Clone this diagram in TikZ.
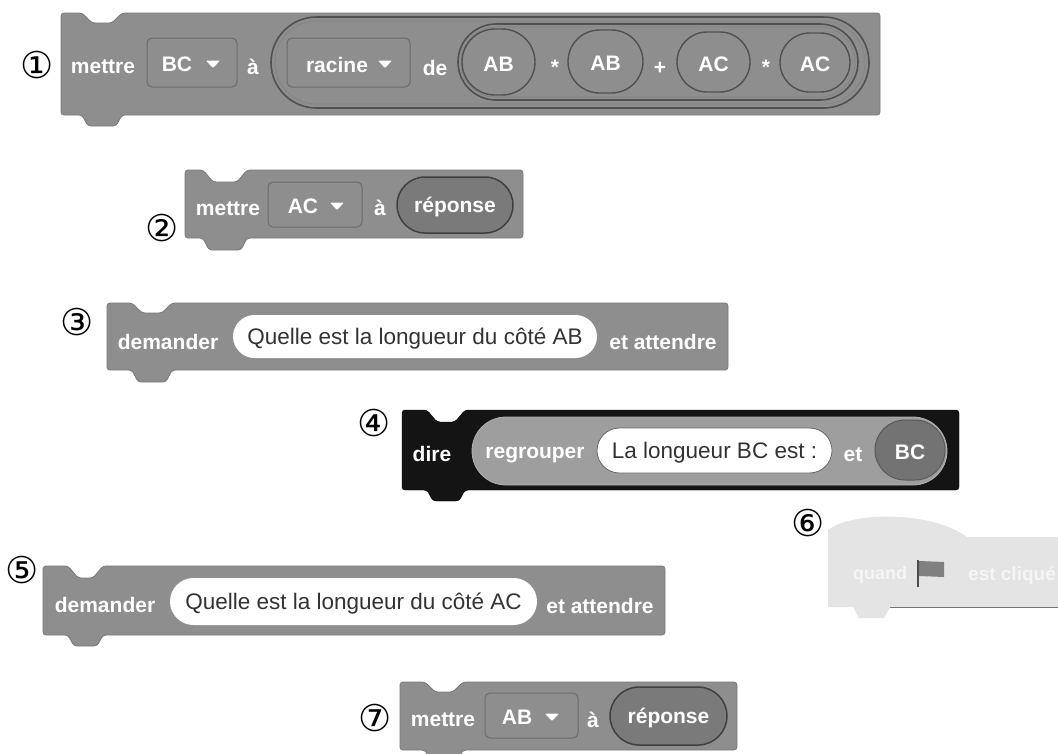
\documentclass[tikz,border=0pt]{standalone}
\usepackage{fontspec}
\setmainfont{Liberation Sans}
\newfontfamily\symfont{DejaVu Sans}
\usetikzlibrary{shapes.misc}
\definecolor{blockgray}{HTML}{8E8E8E}
\definecolor{lightblock}{HTML}{E4E4E4}
\definecolor{edgegray}{HTML}{505050}
\tikzset{
  x=1pt,y=-1pt,
  blockfill/.style={fill=blockgray,draw=blockgray!85!black,line width=.8pt},
  label/.style={text=white,font=\fontsize{21}{24}\selectfont\bfseries,inner sep=0pt,yshift=-2pt},
  quote/.style={text=black!80,font=\fontsize{22.5}{26}\selectfont,inner sep=0pt,yshift=-2pt},
  num/.style={text=black,font=\fontsize{37}{40}\symfont,inner sep=0pt},
  drop/.style={draw=black!58,fill=blockgray,line width=1pt,rounded corners=5pt},
  oval/.style={draw=edgegray,line width=1.6pt,fill=none},
  reporter/.style={draw=black!75,line width=1.5pt,fill=black!52},
  sphere/.style={draw=edgegray,line width=1.4pt,fill=blockgray},
  textpill/.style={fill=white,draw=black!60,line width=.8pt},
}
% block with notch on top and bump below: x0 y0 x1 y1 notchL notchR notchY bumpY style
\newcommand\stackblock[9]{%
  \def\bstyle{#9}%
  \expandafter\draw\expandafter[\bstyle,rounded corners=3pt] (#1,#2) -- (#5,#2) -- (#5+10,#7) -- (#6-10,#7) -- (#6,#2) -- (#3,#2) -- (#3,#4) -- (#6,#4) -- (#6-6,#8) -- (#5+6,#8) -- (#5,#4) -- (#1,#4) -- cycle;%
}
\newcommand\pill[6]{% name x0 y0 x1 y1 style
  \pgfmathsetmacro\pw{#4-#2}\pgfmathsetmacro\ph{#5-#3}%
  \pgfmathsetmacro\pcx{(#2+#4)/2}\pgfmathsetmacro\pcy{(#3+#5)/2}%
  \node[rounded rectangle,minimum width=\pw pt,minimum height=\ph pt,inner sep=0pt,#6] (#1) at (\pcx,\pcy) {};%
}
\newcommand\arrowtip[2]{% x y
  \fill[white,rounded corners=1pt] (#1-7,#2-3.5) -- (#1+7,#2-3.5) -- (#1,#2+4) -- cycle;%
}
\newcommand\dropdown[7]{% name x0 y0 x1 y1 textx text
  \draw[drop] (#2,#3) rectangle (#4,#5);%
  \pgfmathsetmacro\dy{(#3+#5)/2}%
  \node[label] (#1) at (#6,\dy) {#7};%
}
\begin{document}
\begin{tikzpicture}
\useasboundingbox (0,0) rectangle (1058,753);
\fill[white] (0,0) rectangle (1058,753);

% --- block 1
\stackblock{61}{13}{880}{115}{82}{122}{23}{126}{blockfill}
\node[num] (n1) at (37,65) {①};
\node[label] (b1a) at (103,65) {mettre};
\dropdown{b1b}{147}{38}{237}{87}{177}{BC}
\arrowtip{213}{64}
\node[label] (b1c) at (253,65) {à};
\pill{b1o1}{271}{17}{869}{108}{oval}
\pill{b1o2}{275}{21}{865}{104}{draw=edgegray!70,line width=.8pt}
\dropdown{b1d}{287}{38}{410}{87}{337}{racine}
\arrowtip{385}{64}
\node[label] (b1e) at (435,66) {de};
\pill{b1o3}{458}{24}{858}{100}{oval}
\pill{b1o4}{461}{27}{855}{97}{draw=edgegray!70,line width=.8pt}
\pill{b1s1}{462}{29}{535}{95}{sphere}
\pill{b1s2}{568}{30}{643}{93}{sphere}
\pill{b1s3}{677}{32}{750}{92}{sphere}
\pill{b1s4}{780}{33}{850}{92}{sphere}
\node[label] at (b1s1) {AB};
\node[label] at (b1s2) {AB};
\node[label] at (b1s3) {AC};
\node[label] at (b1s4) {AC};
\node[label] (b1m1) at (555,65) {*};
\node[label] (b1p) at (660,66) {+};
\node[label] (b1m2) at (766,65) {*};

% --- block 2
\stackblock{185}{170}{523}{238}{203}{247}{182}{250}{blockfill}
\node[num] (n2) at (162,228) {②};
\node[label] (b2a) at (228,207) {mettre};
\dropdown{b2b}{268}{182}{362}{227}{303}{AC}
\arrowtip{337}{206}
\node[label] (b2c) at (380,206) {à};
\pill{b2d}{397}{177}{513}{233}{reporter}
\node[label] at (b2d) {réponse};

% --- block 3
\stackblock{107}{303}{728}{370}{132}{172}{313}{382}{blockfill}
\node[num] (n3) at (77,322) {③};
\node[label] (b3a) at (168,340) {demander};
\pill{b3b}{233}{315}{597}{358}{fill=white}
\node[quote] at (b3b) {Quelle est la longueur du côté AB};
\node[label] (b3c) at (663,340) {et attendre};

% --- block 4
\stackblock{402}{410}{959}{490}{427}{465}{422}{501}{fill=black!92,draw=black}
\node[num] (n4) at (374,423) {④};
\node[label] (b4a) at (432,452) {dire};
\pill{b4b}{472}{417}{947}{485}{fill=black!38,draw=black!30,line width=.8pt}
\node[label] (b4c) at (535,453) {regrouper};
\pill{b4d}{597}{428}{832}{473}{textpill}
\node[quote] at (b4d) {La longueur BC est :};
\node[label] (b4e) at (853,453) {et};
\pill{b4f}{875}{420}{945}{480}{fill=black!55,draw=black!65,line width=1pt}
\node[label] at (b4f) {BC};

% --- block 5
\stackblock{43}{566}{665}{635}{68}{103}{578}{646}{blockfill}
\node[num] (n5) at (22,570) {⑤};
\node[label] (b5a) at (105,603) {demander};
\pill{b5b}{170}{578}{537}{625}{fill=white}
\node[quote] at (b5b) {Quelle est la longueur du côté AC};
\node[label] (b5c) at (600,604) {et attendre};

% --- block 6 (hat)
\node[num] (n6) at (808,523) {⑥};
\draw[fill=lightblock,draw=none] (828,607) -- (828,530) .. controls (850,512) and (930,510) .. (967,537) -- (1058,537) -- (1058,607) -- (890,607) -- (884,618) -- (859,618) -- (853,607) -- cycle;
\draw[black!55,line width=.8pt] (890,607) -- (1058,607);
\node[label,text=white!96!black,font=\fontsize{18}{20}\selectfont\bfseries] (b6a) at (880,573) {quand};
\draw[black!70,line width=2pt] (918,560) -- (918,587);
\fill[black!50] (919,561) -- (944,562) -- (944,577) -- (919,576) -- cycle;
\node[label,text=white!96!black,font=\fontsize{19}{21}\selectfont\bfseries] (b6b) at (1012,573) {est cliqué};

% --- block 7
\stackblock{400}{682}{737}{750}{425}{463}{692}{762}{blockfill}
\node[num] (n7) at (375,718) {⑦};
\node[label] (b7a) at (443,718) {mettre};
\dropdown{b7b}{485}{693}{578}{738}{517}{AB}
\arrowtip{552}{717}
\node[label] (b7c) at (593,718) {à};
\pill{b7d}{610}{687}{727}{745}{reporter}
\node[label] at (b7d) {réponse};
\end{tikzpicture}
\end{document}
